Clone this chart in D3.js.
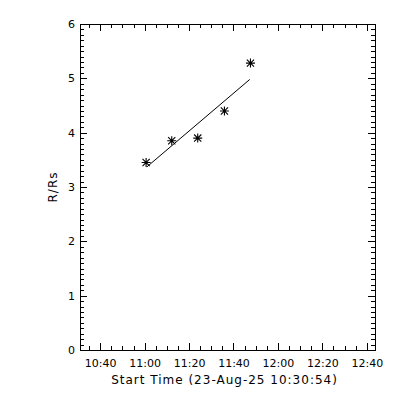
<!DOCTYPE html>
<html><head><meta charset="utf-8">
<script src="https://cdn.jsdelivr.net/npm/d3@7"></script>
<style>
html,body{margin:0;padding:0;background:#fff;}
svg{display:block;}
text{font-family:"DejaVu Sans",sans-serif;fill:#000;}
</style></head>
<body>
<svg id="chart" width="400" height="400"></svg>
<script>
// ---- data ----
const dateStr = "2025-08-23";
const startTime = "10:30:54";
const endTime = "12:43:42";
const pointTimes = ["11:00:40", "11:12:12", "11:23:54", "11:35:55", "11:47:38"];
const pointValues = [3.45, 3.85, 3.90, 4.40, 5.28];
const fitTimes = ["11:01:00", "11:47:20"];
const fitValues = [3.37, 4.98];
const xTickLabels = ["10:40", "11:00", "11:20", "11:40", "12:00", "12:20", "12:40"];
const yTickValues = [0, 1, 2, 3, 4, 5, 6];
const xTitle = "Start Time (23-Aug-25 10:30:54)";
const yTitle = "R/Rs";

// ---- helpers ----
function toDate(t) {
  const [h, m, s] = t.split(":").map(Number);
  return new Date(2025, 7, 23, h, m, s || 0);
}

const svg = d3.select("#chart");
const L = 80, R = 375, T = 24, B = 350;

const x = d3.scaleTime().domain([toDate(startTime), toDate(endTime)]).range([L, R]);
const y = d3.scaleLinear().domain([0, 6]).range([B, T]);

const majorX = xTickLabels.map(toDate);
const minorX = x.ticks(d3.timeMinute.every(5));
const minorY = d3.range(0, 60).map(i => i / 10);

function styleAxis(g) {
  g.select(".domain").remove();
  g.selectAll("line").attr("stroke", "#000").attr("shape-rendering", "crispEdges");
}

// bottom
svg.append("g").attr("transform", `translate(0,${B})`)
  .call(d3.axisBottom(x).tickValues(minorX).tickSize(-4).tickFormat(""))
  .call(styleAxis);
svg.append("g").attr("transform", `translate(0,${B})`)
  .call(d3.axisBottom(x).tickValues(majorX).tickSize(-7).tickPadding(16).tickFormat(d3.timeFormat("%H:%M")))
  .call(styleAxis)
  .call(g => g.selectAll("text").attr("font-size", 11).attr("font-family", "DejaVu Sans").attr("dy", "0.35em").attr("y", 13));
// top
svg.append("g").attr("transform", `translate(0,${T})`)
  .call(d3.axisTop(x).tickValues(minorX).tickSize(-4).tickFormat(""))
  .call(styleAxis);
svg.append("g").attr("transform", `translate(0,${T})`)
  .call(d3.axisTop(x).tickValues(majorX).tickSize(-7).tickFormat(""))
  .call(styleAxis);
// left
svg.append("g").attr("transform", `translate(${L},0)`)
  .call(d3.axisLeft(y).tickValues(minorY).tickSize(-4).tickFormat(""))
  .call(styleAxis);
svg.append("g").attr("transform", `translate(${L},0)`)
  .call(d3.axisLeft(y).tickValues(yTickValues).tickSize(-7).tickPadding(12).tickFormat(d3.format("d")))
  .call(styleAxis)
  .call(g => g.selectAll("text").attr("font-size", 11).attr("font-family", "DejaVu Sans").attr("x", -5));
// right
svg.append("g").attr("transform", `translate(${R},0)`)
  .call(d3.axisRight(y).tickValues(minorY).tickSize(-4).tickFormat(""))
  .call(styleAxis);
svg.append("g").attr("transform", `translate(${R},0)`)
  .call(d3.axisRight(y).tickValues(yTickValues).tickSize(-7).tickFormat(""))
  .call(styleAxis);

// frame
svg.append("rect")
  .attr("x", L).attr("y", T).attr("width", R - L).attr("height", B - T)
  .attr("fill", "none").attr("stroke", "#000").attr("shape-rendering", "crispEdges");

// fit line
const fitData = fitTimes.map((t, i) => ({ t: toDate(t), v: fitValues[i] }));
svg.append("path")
  .datum(fitData)
  .attr("d", d3.line().x(d => x(d.t)).y(d => y(d.v)))
  .attr("fill", "none").attr("stroke", "#000").attr("stroke-width", 1);

// star points
const pts = pointTimes.map((t, i) => ({ t: toDate(t), v: pointValues[i] }));
const s = 4.5, dgl = 3.6;
svg.append("g").selectAll("path").data(pts).join("path")
  .attr("transform", d => `translate(${x(d.t)},${y(d.v)})`)
  .attr("d", `M${-s},0L${s},0M0,${-s}L0,${s}M${-dgl},${-dgl}L${dgl},${dgl}M${-dgl},${dgl}L${dgl},${-dgl}`)
  .attr("fill", "none").attr("stroke", "#000").attr("stroke-width", 1.1);

// titles
svg.append("text")
  .attr("x", (L + R) / 2 - 3).attr("y", 380).attr("dy", "0.35em")
  .attr("text-anchor", "middle").attr("font-size", 12).attr("letter-spacing", "1px")
  .text(xTitle);
svg.append("text")
  .attr("transform", `translate(52.5,${(T + B) / 2}) rotate(-90)`)
  .attr("dy", "0.35em")
  .attr("text-anchor", "middle").attr("font-size", 12).attr("letter-spacing", "1px")
  .text(yTitle);
</script>
</body></html>
